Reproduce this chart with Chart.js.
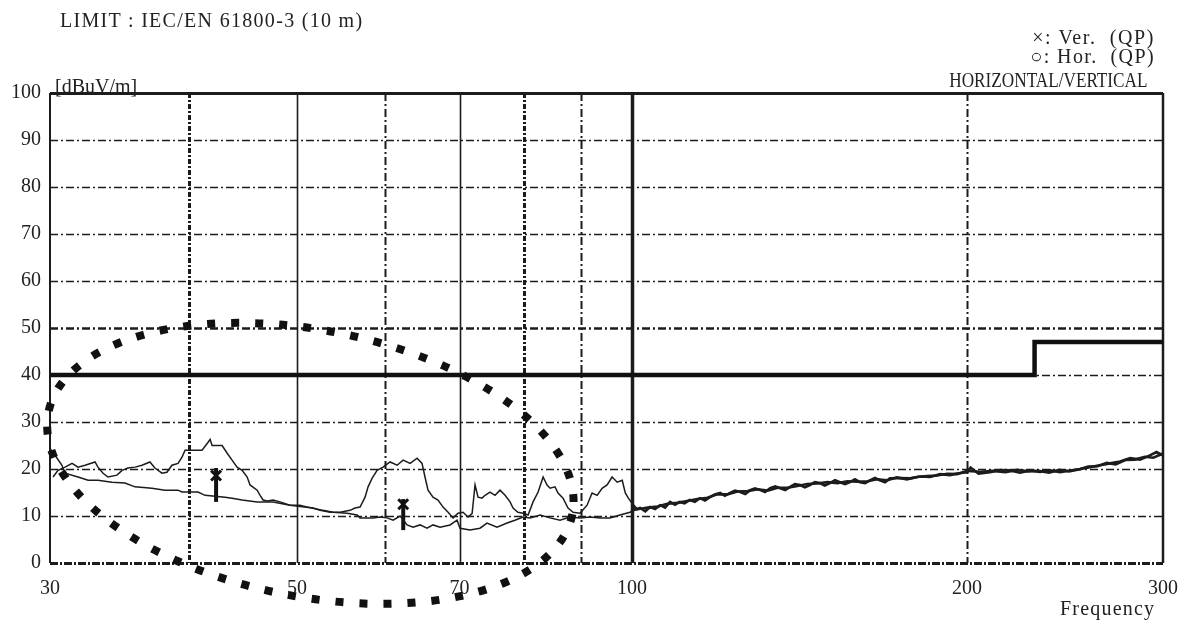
<!DOCTYPE html>
<html>
<head>
<meta charset="utf-8">
<script src="https://cdn.jsdelivr.net/npm/chart.js@4.4.1/dist/chart.umd.min.js"></script>
<style>
  body { margin: 0; background: #fff; }
  #wrap { position: relative; width: 1192px; height: 623px; }
  #c { position: absolute; left: 0; top: 0; }
  .t { position: absolute; font: 20px 'Liberation Serif', serif; line-height: 20px; color: #222; white-space: pre; }
</style>
</head>
<body>
<div id="wrap">
  <canvas id="c" width="1192" height="623"></canvas>
  <div class="t" style="left:60px;top:10px;letter-spacing:1.3px">LIMIT : IEC/EN 61800-3 (10 m)</div>
  <div class="t" style="right:37px;top:27px;letter-spacing:1.6px">×: Ver.  (QP)</div>
  <div class="t" style="right:37px;top:46px;letter-spacing:1.4px">○: Hor.  (QP)</div>
  <div class="t" style="right:45px;top:70px;transform:scaleX(0.86);transform-origin:right">HORIZONTAL/VERTICAL</div>
  <div class="t" style="left:55px;top:76px">[dBuV/m]</div>
  <div class="t" style="left:1060px;top:598px;letter-spacing:1.2px">Frequency</div>
</div>
<script>
// tick labels
const freqTicks = [30, 50, 70, 100, 200, 300];
const levelTicks = [0, 10, 20, 30, 40, 50, 60, 70, 80, 90, 100];

// grid frequencies (MHz)
const gridSolid = [50, 70];
const gridBold = [100];
const gridDashHeavy = [40, 80];
const gridDashLight = [60, 90, 200];

// limit IEC/EN 61800-3 (10 m)
const limitFreq = [30, 230, 300];
const limitLevel = [40, 47, 47];

// vertical polarisation trace
const verFreq = [30.0, 30.38, 30.75, 30.95, 31.79, 32.46, 33.13, 34.10, 35.03, 35.77, 37.04, 38.06, 39.10, 39.42,
  40.75, 41.35, 43.09, 43.72, 44.64, 46.05, 47.60, 49.29, 51.65, 52.77, 53.89, 55.47, 56.63, 56.98, 58.53, 59.39,
  60.25, 61.01, 61.90, 62.80, 63.58, 64.50, 65.44, 66.26, 67.23, 68.64, 69.64, 70.07, 71.54, 73.02, 74.09, 75.64,
  77.23, 78.50, 79.82, 80.99, 82.69, 84.41, 86.17, 87.98, 89.82, 91.70, 93.62, 95.56, 97.56, 99.60,
  100.2, 101.7, 102.8, 103.8, 104.9, 106.0, 107.1, 108.2, 109.3, 110.4, 111.5, 112.7, 113.9, 115.1, 116.3, 117.5,
  118.7, 120.0, 121.2, 122.5, 123.8, 125.1, 126.4, 127.7, 129.0, 130.4, 131.7, 133.1, 134.5, 135.9, 137.3, 138.7,
  140.1, 141.6, 143.0, 144.5, 146.0, 147.5, 149.0, 150.6, 152.2, 153.8, 155.4, 157.0, 158.6, 160.3, 162.0, 163.6,
  165.3, 167.0, 168.8, 170.5, 174.1, 177.8, 181.5, 185.3, 189.2, 193.1, 196.5, 200.0, 201.5, 204.8, 209.7, 214.2,
  218.6, 223.2, 227.9, 232.6, 237.5, 242.5, 247.5, 252.7, 258.0, 263.3, 268.9, 274.5, 280.3, 286.1, 292.0, 296.0, 300];
const verLevel = [24.4, 22.6, 20.8, 19.1, 18.3, 17.6, 17.6, 17.2, 17.0, 16.2, 15.9, 15.5, 15.5, 15.1,
  15.1, 14.4, 14.0, 13.8, 13.4, 13.0, 13.0, 12.3, 11.7, 11.2, 10.8, 10.6, 10.2, 9.6, 9.6, 9.8,
  9.6, 9.1, 10.0, 8.1, 7.6, 8.1, 7.4, 8.1, 7.6, 8.1, 9.1, 7.4, 7.0, 7.4, 8.5, 7.6,
  8.5, 9.1, 9.8, 9.6, 10.2, 9.6, 9.1, 9.8, 9.6, 9.8, 9.6, 9.6, 10.2, 10.8,
  11.2, 11.7, 11.0, 11.9, 11.5, 12.3, 11.8, 13.0, 12.4, 13.0, 12.7, 13.4, 13.0, 13.8, 13.3, 14.0,
  14.6, 14.9, 14.3, 14.9, 15.4, 15.1, 14.7, 15.5, 15.9, 15.5, 15.1, 15.9, 16.3, 15.9, 15.5, 16.2,
  16.8, 16.6, 16.1, 16.6, 17.2, 17.0, 16.5, 17.0, 17.6, 17.2, 16.8, 17.2, 17.8, 17.2, 17.0, 17.6,
  18.1, 17.6, 17.2, 18.0, 18.1, 18.0, 18.4, 18.3, 18.9, 18.7, 19.1, 19.3, 20.3, 19.0, 19.3, 19.8,
  19.7, 19.2, 19.7, 19.4, 19.7, 19.3, 19.7, 20.0, 20.4, 20.8, 21.2, 21.6, 22.3, 22.0, 22.9, 23.6, 22.9];

// horizontal polarisation trace
const horFreq = [30.19, 30.50, 30.95, 31.40, 31.79, 32.26, 32.93, 33.13, 33.48, 33.82, 34.46, 34.82, 35.25, 35.77,
  36.29, 36.89, 37.27, 37.82, 38.21, 38.61, 39.10, 39.42, 39.67, 40.25, 41.09, 41.61, 41.78, 41.95, 42.83, 43.27,
  43.72, 44.18, 44.64, 45.11, 45.38, 46.05, 46.33, 46.62, 47.01, 47.60, 48.28, 49.29, 50.31, 51.02, 51.65, 52.45,
  53.55, 54.67, 55.81, 56.39, 56.98, 57.57, 57.93, 58.41, 59.02, 59.76, 60.63, 61.52, 62.29, 63.19, 64.11, 64.77,
  65.17, 65.58, 66.26, 66.95, 67.65, 68.36, 69.07, 69.78, 70.51, 71.24, 71.84, 72.28, 72.73, 73.33, 73.79, 74.55,
  75.33, 76.11, 76.91, 77.71, 78.19, 78.98, 79.82, 80.66, 81.50, 82.35, 83.21, 83.89, 84.41, 85.28, 85.82, 86.71,
  87.61, 88.53, 89.82, 91.13, 92.08, 93.04, 94.01, 94.99, 95.97, 96.99, 98.01, 98.63, 99.26, 100.3,
  101.0, 103.3, 105.4, 107.6, 109.8, 112.1, 114.5, 116.9, 119.3, 121.8, 124.4, 127.0, 129.7, 132.4, 135.2, 138.0,
  140.8, 143.7, 146.7, 149.8, 153.0, 156.2, 159.4, 162.8, 166.1, 169.6, 173.0, 176.6, 180.3, 184.0, 188.0, 192.0,
  196.0, 200.0, 205.5, 211.0, 216.5, 222.0, 227.0, 232.0, 237.0, 242.0, 247.0, 252.0, 257.0, 262.0, 267.0, 272.0,
  277.5, 283.0, 289.0, 294.0, 300];
const horLevel = [18.3, 19.7, 20.4, 21.2, 20.4, 20.8, 21.5, 20.4, 19.1, 18.3, 18.7, 19.7, 20.2, 20.4,
  20.8, 21.5, 20.2, 19.1, 19.3, 20.8, 21.2, 22.5, 24.0, 24.0, 24.0, 25.7, 26.3, 25.0, 25.0, 23.4,
  21.9, 20.4, 19.7, 18.3, 16.6, 15.5, 14.4, 13.4, 13.2, 13.4, 13.0, 12.3, 12.3, 11.9, 11.7, 11.2,
  10.8, 10.8, 11.2, 11.7, 11.9, 14.0, 16.2, 18.0, 19.7, 20.4, 21.5, 20.8, 21.9, 21.2, 22.3, 21.2,
  18.3, 15.5, 14.0, 13.4, 11.9, 10.8, 9.6, 10.6, 10.8, 9.8, 10.5, 16.6, 14.0, 13.8, 14.4, 15.1,
  14.4, 15.5, 14.4, 13.0, 11.7, 10.8, 10.6, 10.2, 13.0, 15.1, 18.3, 16.6, 15.9, 16.2, 14.9, 13.8,
  11.7, 10.8, 10.6, 12.3, 14.9, 14.4, 15.9, 16.6, 18.3, 17.2, 17.6, 14.9, 13.8, 12.3,
  11.4, 11.8, 12.0, 12.6, 12.8, 13.2, 13.6, 13.9, 14.6, 14.6, 15.2, 15.3, 15.7, 15.4, 16.0, 16.0,
  16.4, 16.8, 16.9, 17.2, 17.0, 17.4, 17.3, 17.4, 17.8, 17.6, 18.2, 17.8, 18.3, 18.5, 18.6, 19.0,
  18.9, 19.6, 19.4, 19.6, 19.3, 19.8, 19.5, 19.6, 19.2, 19.8, 19.5, 19.9, 20.5, 20.6, 21.3, 21.0,
  21.9, 22.0, 22.6, 22.4, 23.3];

// QP markers
const markerFreq = [42.3, 62.3];
const markerLevel = [18.6, 12.5];
const stemLow = [13.0, 7.0];
const stemHigh = [20.2, 13.6];

// dotted ring annotation: major axis end points and minor/major ratio
const ringFreq = [29.9, 88.4];
const ringLevel = [32.0, 10.4];
const ringRatio = 0.5;

const ink = '#1c1c1c';
const tickFont = { family: "'Liberation Serif', serif", size: 20 };

const pts = (xs, ys) => xs.map((x, i) => ({ x, y: ys[i] }));

// Grid and frame in the analyser's print style
const framePlugin = {
  id: 'frame',
  beforeDatasetsDraw(chart) {
    const { ctx, chartArea: a, scales: { x, y } } = chart;
    ctx.save();
    ctx.strokeStyle = ink;
    const hline = (v, w, dash) => {
      const py = Math.round(y.getPixelForValue(v)) + 0.5;
      ctx.lineWidth = w; ctx.setLineDash(dash);
      ctx.beginPath(); ctx.moveTo(a.left, py); ctx.lineTo(a.right, py); ctx.stroke();
    };
    const vline = (f, w, dash) => {
      const px = Math.round(x.getPixelForValue(f)) + 0.5;
      ctx.lineWidth = w; ctx.setLineDash(dash);
      ctx.beginPath(); ctx.moveTo(px, a.top); ctx.lineTo(px, a.bottom); ctx.stroke();
    };
    levelTicks.slice(1, -1).forEach(v => hline(v, v === 50 ? 2.5 : 1.3, [8, 3, 2, 3]));
    gridDashHeavy.forEach(f => vline(f, 3, [5, 2, 2, 2]));
    gridDashLight.forEach(f => vline(f, 2, [8, 3, 2, 3]));
    gridSolid.forEach(f => vline(f, 1.6, []));
    gridBold.forEach(f => vline(f, 3.5, []));
    hline(levelTicks[0], 3, [8, 2, 2, 2]);
    hline(levelTicks[levelTicks.length - 1], 3, []);
    ctx.setLineDash([]);
    ctx.lineWidth = 2;
    ctx.beginPath(); ctx.moveTo(a.left, a.top); ctx.lineTo(a.left, a.bottom); ctx.stroke();
    ctx.lineWidth = 2.5;
    ctx.beginPath(); ctx.moveTo(a.right, a.top); ctx.lineTo(a.right, a.bottom); ctx.stroke();
    ctx.restore();
  },
  afterDraw(chart) {
    const { ctx, scales: { x, y } } = chart;
    const x1 = x.getPixelForValue(ringFreq[0]), y1 = y.getPixelForValue(ringLevel[0]);
    const x2 = x.getPixelForValue(ringFreq[1]), y2 = y.getPixelForValue(ringLevel[1]);
    const rx = Math.hypot(x2 - x1, y2 - y1) / 2;
    ctx.save();
    ctx.strokeStyle = '#111';
    ctx.lineWidth = 8;
    ctx.setLineDash([8, 16]);
    ctx.beginPath();
    ctx.ellipse((x1 + x2) / 2, (y1 + y2) / 2, rx, rx * ringRatio, Math.atan2(y2 - y1, x2 - x1), 0, Math.PI * 2);
    ctx.stroke();
    ctx.restore();
  }
};

// the overlapping sweep above 100 MHz prints as a heavier band
const traceStyle = {
  borderColor: ink, borderWidth: 1.5, pointRadius: 0, fill: false, tension: 0,
  segment: { borderWidth: c => (c.p0.parsed.x >= 100 ? 2.6 : 1.5) }
};

new Chart(document.getElementById('c'), {
  type: 'line',
  data: {
    datasets: [
      { label: 'Limit', data: pts(limitFreq, limitLevel), borderColor: '#111', borderWidth: 4.5, pointRadius: 0, stepped: true },
      { label: 'Hor.', data: pts(horFreq, horLevel), ...traceStyle },
      { label: 'Ver.', data: pts(verFreq, verLevel), ...traceStyle },
      ...markerFreq.map((f, i) => ({
        label: 'stem' + i, data: [{ x: f, y: stemLow[i] }, { x: f, y: stemHigh[i] }],
        borderColor: '#111', borderWidth: 4, pointRadius: 0
      })),
      { label: 'QP', data: pts(markerFreq, markerLevel), showLine: false, pointStyle: 'crossRot',
        pointRadius: 7, borderColor: '#111', borderWidth: 3 }
    ]
  },
  options: {
    responsive: false,
    animation: false,
    layout: { padding: { left: 0, right: 29, top: 93, bottom: 0 } },
    plugins: { legend: { display: false }, tooltip: { enabled: false } },
    scales: {
      x: {
        type: 'logarithmic', min: 30, max: 300,
        grid: { display: false, drawTicks: false },
        border: { display: false },
        afterBuildTicks: s => { s.ticks = freqTicks.map(v => ({ value: v })); },
        afterFit: s => { s.height = 60; },
        ticks: { callback: v => String(v), font: tickFont, color: '#222', padding: 14, maxRotation: 0, autoSkip: false }
      },
      y: {
        type: 'linear', min: 0, max: 100,
        grid: { display: false, drawTicks: false },
        border: { display: false },
        afterBuildTicks: s => { s.ticks = levelTicks.map(v => ({ value: v })); },
        afterFit: s => { s.width = 50; },
        ticks: { font: tickFont, color: '#222', padding: 9 }
      }
    }
  },
  plugins: [framePlugin]
});
</script>
</body>
</html>
